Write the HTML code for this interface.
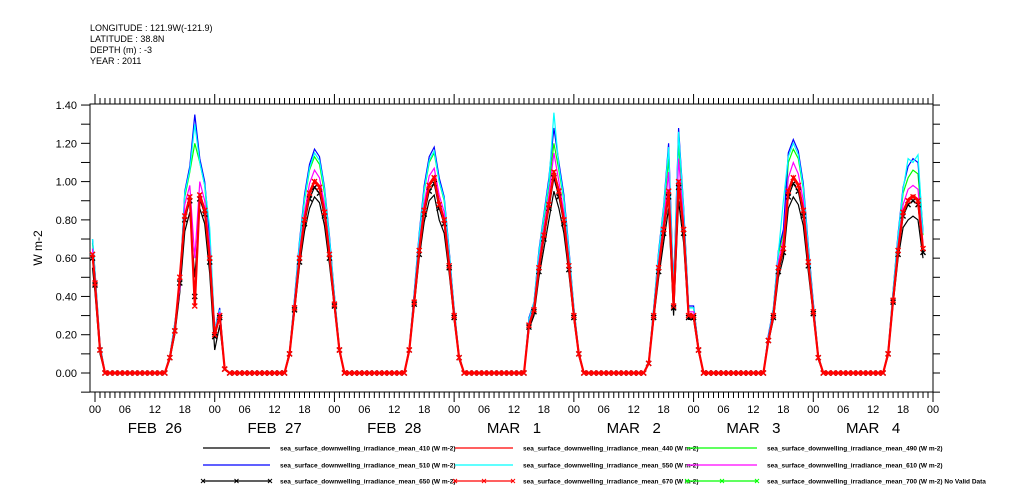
<!DOCTYPE html>
<html><head><meta charset="utf-8"><style>
html,body{margin:0;padding:0;background:#fff;}
svg{display:block;font-family:"Liberation Sans",sans-serif;}
</style></head><body>
<svg id="chart" width="1009" height="504" viewBox="0 0 1009 504" xmlns="http://www.w3.org/2000/svg">
<g font-size="9" fill="#000">
<text x="90" y="31">LONGITUDE : 121.9W(-121.9)</text>
<text x="90" y="42">LATITUDE : 38.8N</text>
<text x="90" y="53">DEPTH (m) : -3</text>
<text x="90" y="64">YEAR : 2011</text>
</g>
<text x="42" y="248" font-size="12" text-anchor="middle" transform="rotate(-90 42 248)">W m-2</text>
<g id="axes"></g>
<g id="plot"></g>
<g id="legend"></g>
</svg>
<script>
const dayLabels = ["FEB  26","FEB  27","FEB  28","MAR   1","MAR   2","MAR   3","MAR   4"];
const hourTickLabels = ["00","06","12","18"];
const yTicks = [0,0.2,0.4,0.6,0.8,1.0,1.2,1.4];
const yTickLabels = ["0.00","0.20","0.40","0.60","0.80","1.00","1.20","1.40"];
const daylightHours = [14,15,16,17,18,19,20,21,22,23,24,25,26];
const leadHours = [-0.5,0,1,2];

const lead410=[0.55,0.42,0.1,0];
const lead440=[0.62,0.47,0.12,0];
const lead490=[0.68,0.52,0.14,0];
const lead510=[0.7,0.53,0.15,0];
const lead550=[0.7,0.53,0.15,0];
const lead610=[0.65,0.5,0.13,0];
const lead650=[0.6,0.46,0.12,0];
const lead670=[0.62,0.47,0.12,0];

const s410=[[0,0.07,0.2,0.42,0.74,0.84,0.5,0.86,0.78,0.52,0.12,0.25,0.02],[0,0.09,0.32,0.56,0.74,0.86,0.92,0.89,0.77,0.57,0.34,0.11,0],[0,0.11,0.35,0.6,0.79,0.9,0.93,0.8,0.73,0.52,0.28,0.07,0],[0,0.23,0.3,0.5,0.65,0.8,0.95,0.86,0.73,0.52,0.28,0.09,0],[0,0.05,0.28,0.5,0.68,0.86,0.3,0.9,0.68,0.28,0.28,0.11,0],[0,0.16,0.28,0.5,0.6,0.86,0.92,0.88,0.77,0.53,0.3,0.07,0],[0,0.09,0.36,0.6,0.76,0.8,0.82,0.8,0.6]];
const s440=[[0,0.08,0.22,0.48,0.82,0.93,0.4,0.94,0.86,0.6,0.2,0.3,0.02],[0,0.1,0.34,0.61,0.81,0.95,1.01,0.98,0.85,0.63,0.36,0.12,0],[0,0.12,0.37,0.65,0.86,0.99,1.03,0.9,0.81,0.57,0.3,0.08,0],[0,0.25,0.33,0.56,0.73,0.89,1.06,0.96,0.81,0.57,0.3,0.1,0],[0,0.05,0.3,0.56,0.76,0.96,0.36,1.01,0.76,0.3,0.3,0.12,0],[0,0.17,0.3,0.56,0.66,0.96,1.03,0.99,0.86,0.59,0.32,0.08,0],[0,0.1,0.38,0.65,0.85,0.91,0.93,0.91,0.66]];
const s490=[[0,0.09,0.25,0.45,0.92,1.05,1.2,1.1,0.98,0.7,0.22,0.33,0.02],[0,0.11,0.38,0.67,0.9,1.06,1.13,1.09,0.94,0.7,0.4,0.13,0],[0,0.13,0.41,0.71,0.95,1.1,1.15,1.0,0.9,0.63,0.33,0.09,0],[0,0.28,0.36,0.62,0.8,0.98,1.2,1.06,0.9,0.63,0.33,0.11,0],[0,0.06,0.33,0.62,0.84,1.12,0.42,1.2,0.84,0.34,0.34,0.13,0],[0,0.19,0.33,0.62,0.73,1.1,1.17,1.12,0.96,0.65,0.36,0.09,0],[0,0.11,0.42,0.71,0.94,1.02,1.06,1.04,0.72]];
const s510=[[0,0.09,0.26,0.46,0.95,1.08,1.35,1.12,1.0,0.72,0.23,0.34,0.02],[0,0.11,0.39,0.69,0.93,1.09,1.17,1.13,0.97,0.72,0.41,0.13,0],[0,0.13,0.42,0.73,0.98,1.13,1.18,1.02,0.92,0.64,0.34,0.09,0],[0,0.29,0.37,0.64,0.83,1.02,1.28,1.1,0.93,0.65,0.34,0.11,0],[0,0.06,0.34,0.64,0.87,1.2,0.44,1.28,0.87,0.35,0.35,0.13,0],[0,0.2,0.34,0.64,0.75,1.15,1.22,1.16,0.99,0.67,0.37,0.09,0],[0,0.11,0.43,0.73,0.97,1.08,1.12,1.1,0.74]];
const s550=[[0,0.09,0.26,0.46,0.94,1.06,1.3,1.1,0.98,0.76,0.23,0.33,0.02],[0,0.11,0.38,0.68,0.91,1.07,1.15,1.11,0.96,0.71,0.41,0.13,0],[0,0.13,0.41,0.72,0.96,1.11,1.16,1.0,0.91,0.63,0.34,0.09,0],[0,0.28,0.37,0.63,0.82,1.0,1.36,1.08,0.91,0.64,0.34,0.11,0],[0,0.06,0.34,0.63,0.86,1.18,0.43,1.26,0.86,0.34,0.34,0.13,0],[0,0.19,0.34,0.63,0.9,1.13,1.2,1.14,0.97,0.66,0.36,0.09,0],[0,0.11,0.43,0.72,0.96,1.12,1.1,1.14,0.73]];
const s610=[[0,0.08,0.24,0.44,0.88,0.98,0.6,1.0,0.9,0.66,0.21,0.32,0.02],[0,0.1,0.36,0.63,0.84,0.99,1.06,1.02,0.88,0.65,0.38,0.12,0],[0,0.12,0.39,0.67,0.89,1.03,1.07,0.93,0.84,0.59,0.32,0.08,0],[0,0.26,0.35,0.58,0.76,0.93,1.15,1.0,0.84,0.59,0.32,0.1,0],[0,0.05,0.32,0.58,0.79,1.05,0.38,1.12,0.79,0.32,0.32,0.12,0],[0,0.18,0.32,0.58,0.7,1.02,1.1,1.04,0.9,0.61,0.34,0.08,0],[0,0.1,0.4,0.67,0.88,0.96,0.98,0.96,0.68]];
const s650=[[0,0.08,0.22,0.47,0.8,0.9,0.4,0.91,0.83,0.58,0.19,0.29,0.02],[0,0.1,0.33,0.58,0.78,0.91,0.97,0.94,0.82,0.6,0.35,0.12,0],[0,0.12,0.36,0.62,0.83,0.95,0.99,0.86,0.78,0.55,0.29,0.08,0],[0,0.24,0.32,0.53,0.7,0.86,1.02,0.92,0.78,0.54,0.29,0.1,0],[0,0.05,0.29,0.53,0.73,0.92,0.34,0.97,0.73,0.29,0.29,0.12,0],[0,0.17,0.29,0.53,0.63,0.92,0.99,0.95,0.82,0.56,0.31,0.08,0],[0,0.1,0.37,0.62,0.82,0.88,0.9,0.88,0.63]];
const s670=[[0,0.08,0.22,0.5,0.82,0.92,0.35,0.93,0.85,0.6,0.2,0.3,0.02],[0,0.1,0.34,0.6,0.8,0.94,1.0,0.97,0.84,0.62,0.36,0.12,0],[0,0.12,0.37,0.64,0.85,0.98,1.02,0.88,0.8,0.56,0.3,0.08,0],[0,0.25,0.33,0.55,0.72,0.88,1.05,0.95,0.8,0.56,0.3,0.1,0],[0,0.05,0.3,0.55,0.75,0.95,0.35,1.0,0.75,0.3,0.3,0.12,0],[0,0.17,0.3,0.55,0.65,0.95,1.02,0.98,0.85,0.58,0.32,0.08,0],[0,0.1,0.38,0.64,0.84,0.9,0.92,0.9,0.65]];

const seriesList=[
 {name:"410",lead:lead410,days:s410,color:"#000",mark:false},
 {name:"440",lead:lead440,days:s440,color:"#ff0000",mark:false},
 {name:"490",lead:lead490,days:s490,color:"#00ff00",mark:false},
 {name:"510",lead:lead510,days:s510,color:"#0000ff",mark:false},
 {name:"550",lead:lead550,days:s550,color:"#00ffff",mark:false},
 {name:"610",lead:lead610,days:s610,color:"#ff00ff",mark:false},
 {name:"650",lead:lead650,days:s650,color:"#000",mark:true},
 {name:"670",lead:lead670,days:s670,color:"#ff0000",mark:true}
];
const legendItems=[
 ["410","#000",false,""],["440","#ff0000",false,""],["490","#00ff00",false,""],
 ["510","#0000ff",false,""],["550","#00ffff",false,""],["610","#ff00ff",false,""],
 ["650","#000",true,""],["670","#ff0000",true,""],["700","#00ff00",true," No Valid Data"]
];

const NS="http://www.w3.org/2000/svg";
const L=90,R=933,T=104,B=392;
function xScale(h){return 95+h*(838/168);}
function yScale(v){return 373-v*191.4;}
function mk(tag,attrs,parent){const e=document.createElementNS(NS,tag);for(const k in attrs)e.setAttribute(k,attrs[k]);parent.appendChild(e);return e;}

const axes=document.getElementById('axes');
const fr=mk('rect',{x:L,y:T,width:R-L,height:B-T,fill:'none',stroke:'#000','stroke-width':1},axes);


for(let i=-1;i<=14;i++){
 const y=yScale(i/10);
 mk('line',{x1:L-9,x2:L,y1:y,y2:y,stroke:'#000'},axes);
 mk('line',{x1:R,x2:R+7,y1:y,y2:y,stroke:'#000'},axes);
}
yTicks.forEach((v,i)=>{
 const t=mk('text',{x:L-13,y:yScale(v)+4,'font-size':11,'text-anchor':'end'},axes);
 t.textContent=yTickLabels[i];
 
 
});
for(let h=0;h<=168;h++){
 const x=xScale(h);
 const major=h%24===0;
 mk('line',{x1:x,x2:x,y1:B,y2:B+(major?10:6),stroke:'#000'},axes);
 mk('line',{x1:x,x2:x,y1:T,y2:T-(major?10:6),stroke:'#000'},axes);
 if(h%6===0){
  const t=mk('text',{x:x,y:B+21,'font-size':11,'text-anchor':'middle'},axes);
  t.textContent=hourTickLabels[(h/6)%4];
  
  
 }
}
dayLabels.forEach((d,i)=>{
 const t=mk('text',{x:xScale(i*24+12),y:B+41,'font-size':15,'text-anchor':'middle'},axes);
 t.setAttribute('style','white-space:pre');
 t.textContent=d;
 
 
});

const plot=document.getElementById('plot');
function buildPoints(s){
 const pts=[];
 s.lead.forEach((v,i)=>pts.push([leadHours[i],v]));
 for(let h=3;h<14;h++)pts.push([h,0]);
 s.days.forEach((arr,d)=>{
  arr.forEach((v,i)=>pts.push([d*24+daylightHours[i],v]));
  if(d<s.days.length-1){for(let h=3;h<14;h++)pts.push([(d+1)*24+h,0]);}
 });
 return pts;
}
seriesList.forEach(s=>{
 const pts=buildPoints(s);
 const g=mk('g',{},plot);
 
 
 const p=mk('polyline',{points:pts.map(q=>xScale(q[0]).toFixed(1)+','+yScale(q[1]).toFixed(1)).join(' '),fill:'none',stroke:s.color,'stroke-width':s.name==="670"?2.2:1.2},g);
 
 
 if(s.mark){
  let d='';
  pts.forEach(q=>{const x=xScale(q[0]),y=yScale(q[1]);d+=`M${x-2.5},${y-2.5}L${x+2.5},${y+2.5}M${x-2.5},${y+2.5}L${x+2.5},${y-2.5}`;});
  const m=mk('path',{d:d,stroke:s.color,'stroke-width':1.4,fill:'none'},g);
  
  
 }
});

const legend=document.getElementById('legend');
const colLine=[[203,270],[455,513],[687,757]];
const rowY=[448,465,481];
legendItems.forEach((it,i)=>{
 const c=i%3,r=Math.floor(i/3);
 const g=mk('g',{},legend);
 
 
 const y=rowY[r];
 mk('line',{x1:colLine[c][0],x2:colLine[c][1],y1:y,y2:y,stroke:it[1],'stroke-width':1.2},g);
 if(it[2]){
  [colLine[c][0],(colLine[c][0]+colLine[c][1])/2,colLine[c][1]].forEach(x=>{
   mk('path',{d:`M${x-2},${y-2}L${x+2},${y+2}M${x-2},${y+2}L${x+2},${y-2}`,stroke:it[1],'stroke-width':1},g);
  });
 }
 const t=mk('text',{x:colLine[c][1]+10,y:y+2.5,'font-size':6.5,'font-weight':'bold'},g);
 t.textContent='sea_surface_downwelling_irradiance_mean_'+it[0]+' (W m-2)'+it[3];
});
</script>
</body></html>
